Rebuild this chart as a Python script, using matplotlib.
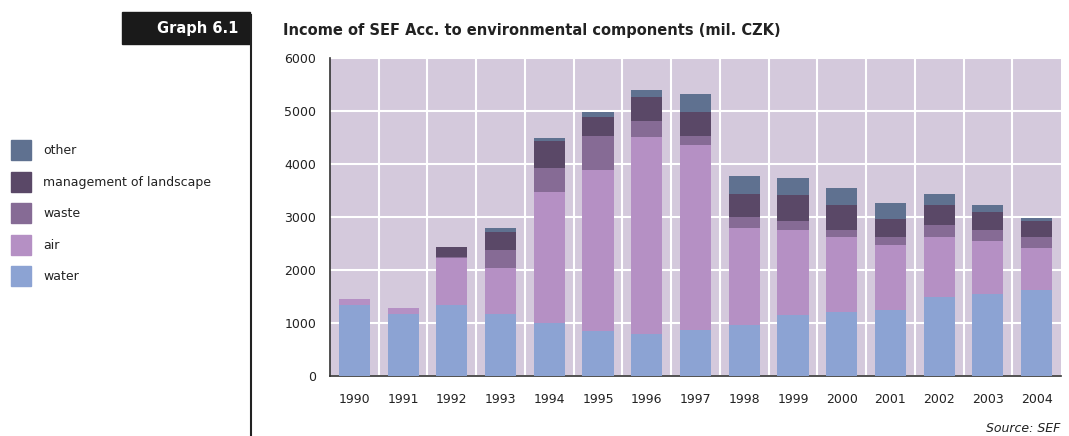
import numpy as np
import matplotlib.pyplot as plt
from matplotlib.patches import Rectangle

years = ['1990', '1991', '1992', '1993', '1994', '1995', '1996', '1997',
         '1998', '1999', '2000', '2001', '2002', '2003', '2004']
water = [1345, 1174, 1345, 1174, 998, 840, 795, 865, 966, 1143, 1206, 1237, 1490, 1553, 1623]
air = [107, 101, 877, 859, 2474, 3043, 3706, 3497, 1824, 1609, 1414, 1244, 1130, 998, 788]
waste = [0, 0, 30, 347, 448, 650, 316, 171, 202, 170, 126, 139, 227, 201, 209]
landscape = [0, 0, 188, 341, 512, 347, 442, 455, 449, 487, 486, 341, 385, 341, 302]
other = [0, 0, 0, 63, 63, 108, 132, 340, 334, 335, 309, 309, 209, 139, 65]

series = [('water', water, '#8ca3d3'),
          ('air', air, '#b590c4'),
          ('waste', waste, '#866b95'),
          ('management of landscape', landscape, '#5a4867'),
          ('other', other, '#5f7190')]

plt.rcParams['font.family'] = ['DejaVu Sans']

fig = plt.figure(figsize=(10.69, 4.36), dpi=100)
ax = fig.add_axes([330/1069, 1 - 376/436, 731/1069, (376 - 58)/436])
ax.set_facecolor('#d4c9dc')

x = np.arange(len(years))
bottom = np.zeros(len(years))
handles = []
for name, vals, col in series:
    ax.bar(x, vals, 0.64, bottom=bottom, color=col, zorder=3)
    bottom += np.array(vals)
    handles.append((name, col))

ax.set_xlim(-0.5, len(years) - 0.5)
ax.set_ylim(0, 6000)
ax.set_yticks(range(0, 6001, 1000))
ax.set_xticks(x)
ax.set_xticklabels(years)
ax.set_xticks(x[:-1] + 0.5, minor=True)
ax.grid(which='minor', axis='x', color='white', lw=1.5, zorder=1)
ax.grid(which='major', axis='y', color='white', lw=1.5, zorder=1)
ax.tick_params(which='both', length=0, labelsize=9, colors='#222222')
ax.tick_params(axis='y', pad=10)
ax.tick_params(axis='x', pad=12)
for s in ['top', 'right']:
    ax.spines[s].set_visible(False)
ax.spines['left'].set_color('#333333')
ax.spines['bottom'].set_color('#333333')
ax.spines['left'].set_linewidth(1.2)
ax.spines['bottom'].set_linewidth(1.2)

# header box and divider
fig.add_artist(Rectangle((122/1069, 1 - 44/436), (250 - 122)/1069, 32/436,
                         transform=fig.transFigure, color='#1a1a1a'))
fig.add_artist(plt.Line2D([251/1069, 251/1069], [0, 1 - 15/436],
                          transform=fig.transFigure, color='#222222', lw=1.5))
fig.text(238/1069, 1 - 28/436, 'Graph 6.1', color='white', fontsize=10.5,
         fontweight='bold', ha='right', va='center')
fig.text(283/1069, 1 - 31/436,
         'Income of SEF Acc. to environmental components (mil. CZK)',
         color='#222222', fontsize=10.5, fontweight='bold', va='center')
fig.text(1060/1069, 1 - 428/436, 'Source: SEF', style='italic',
         fontsize=9, ha='right', va='center', color='#222222')

# legend on the left
legend_rows = [150, 182, 213, 245, 276]
for (name, col), yy in zip(handles[::-1], legend_rows):
    fig.add_artist(Rectangle((11/1069, 1 - (yy + 10)/436), 20/1069, 20/436,
                             transform=fig.transFigure, color=col))
    fig.text(43/1069, 1 - yy/436, name, fontsize=9, va='center', color='#222222')

fig.savefig('out.png', dpi=100)
